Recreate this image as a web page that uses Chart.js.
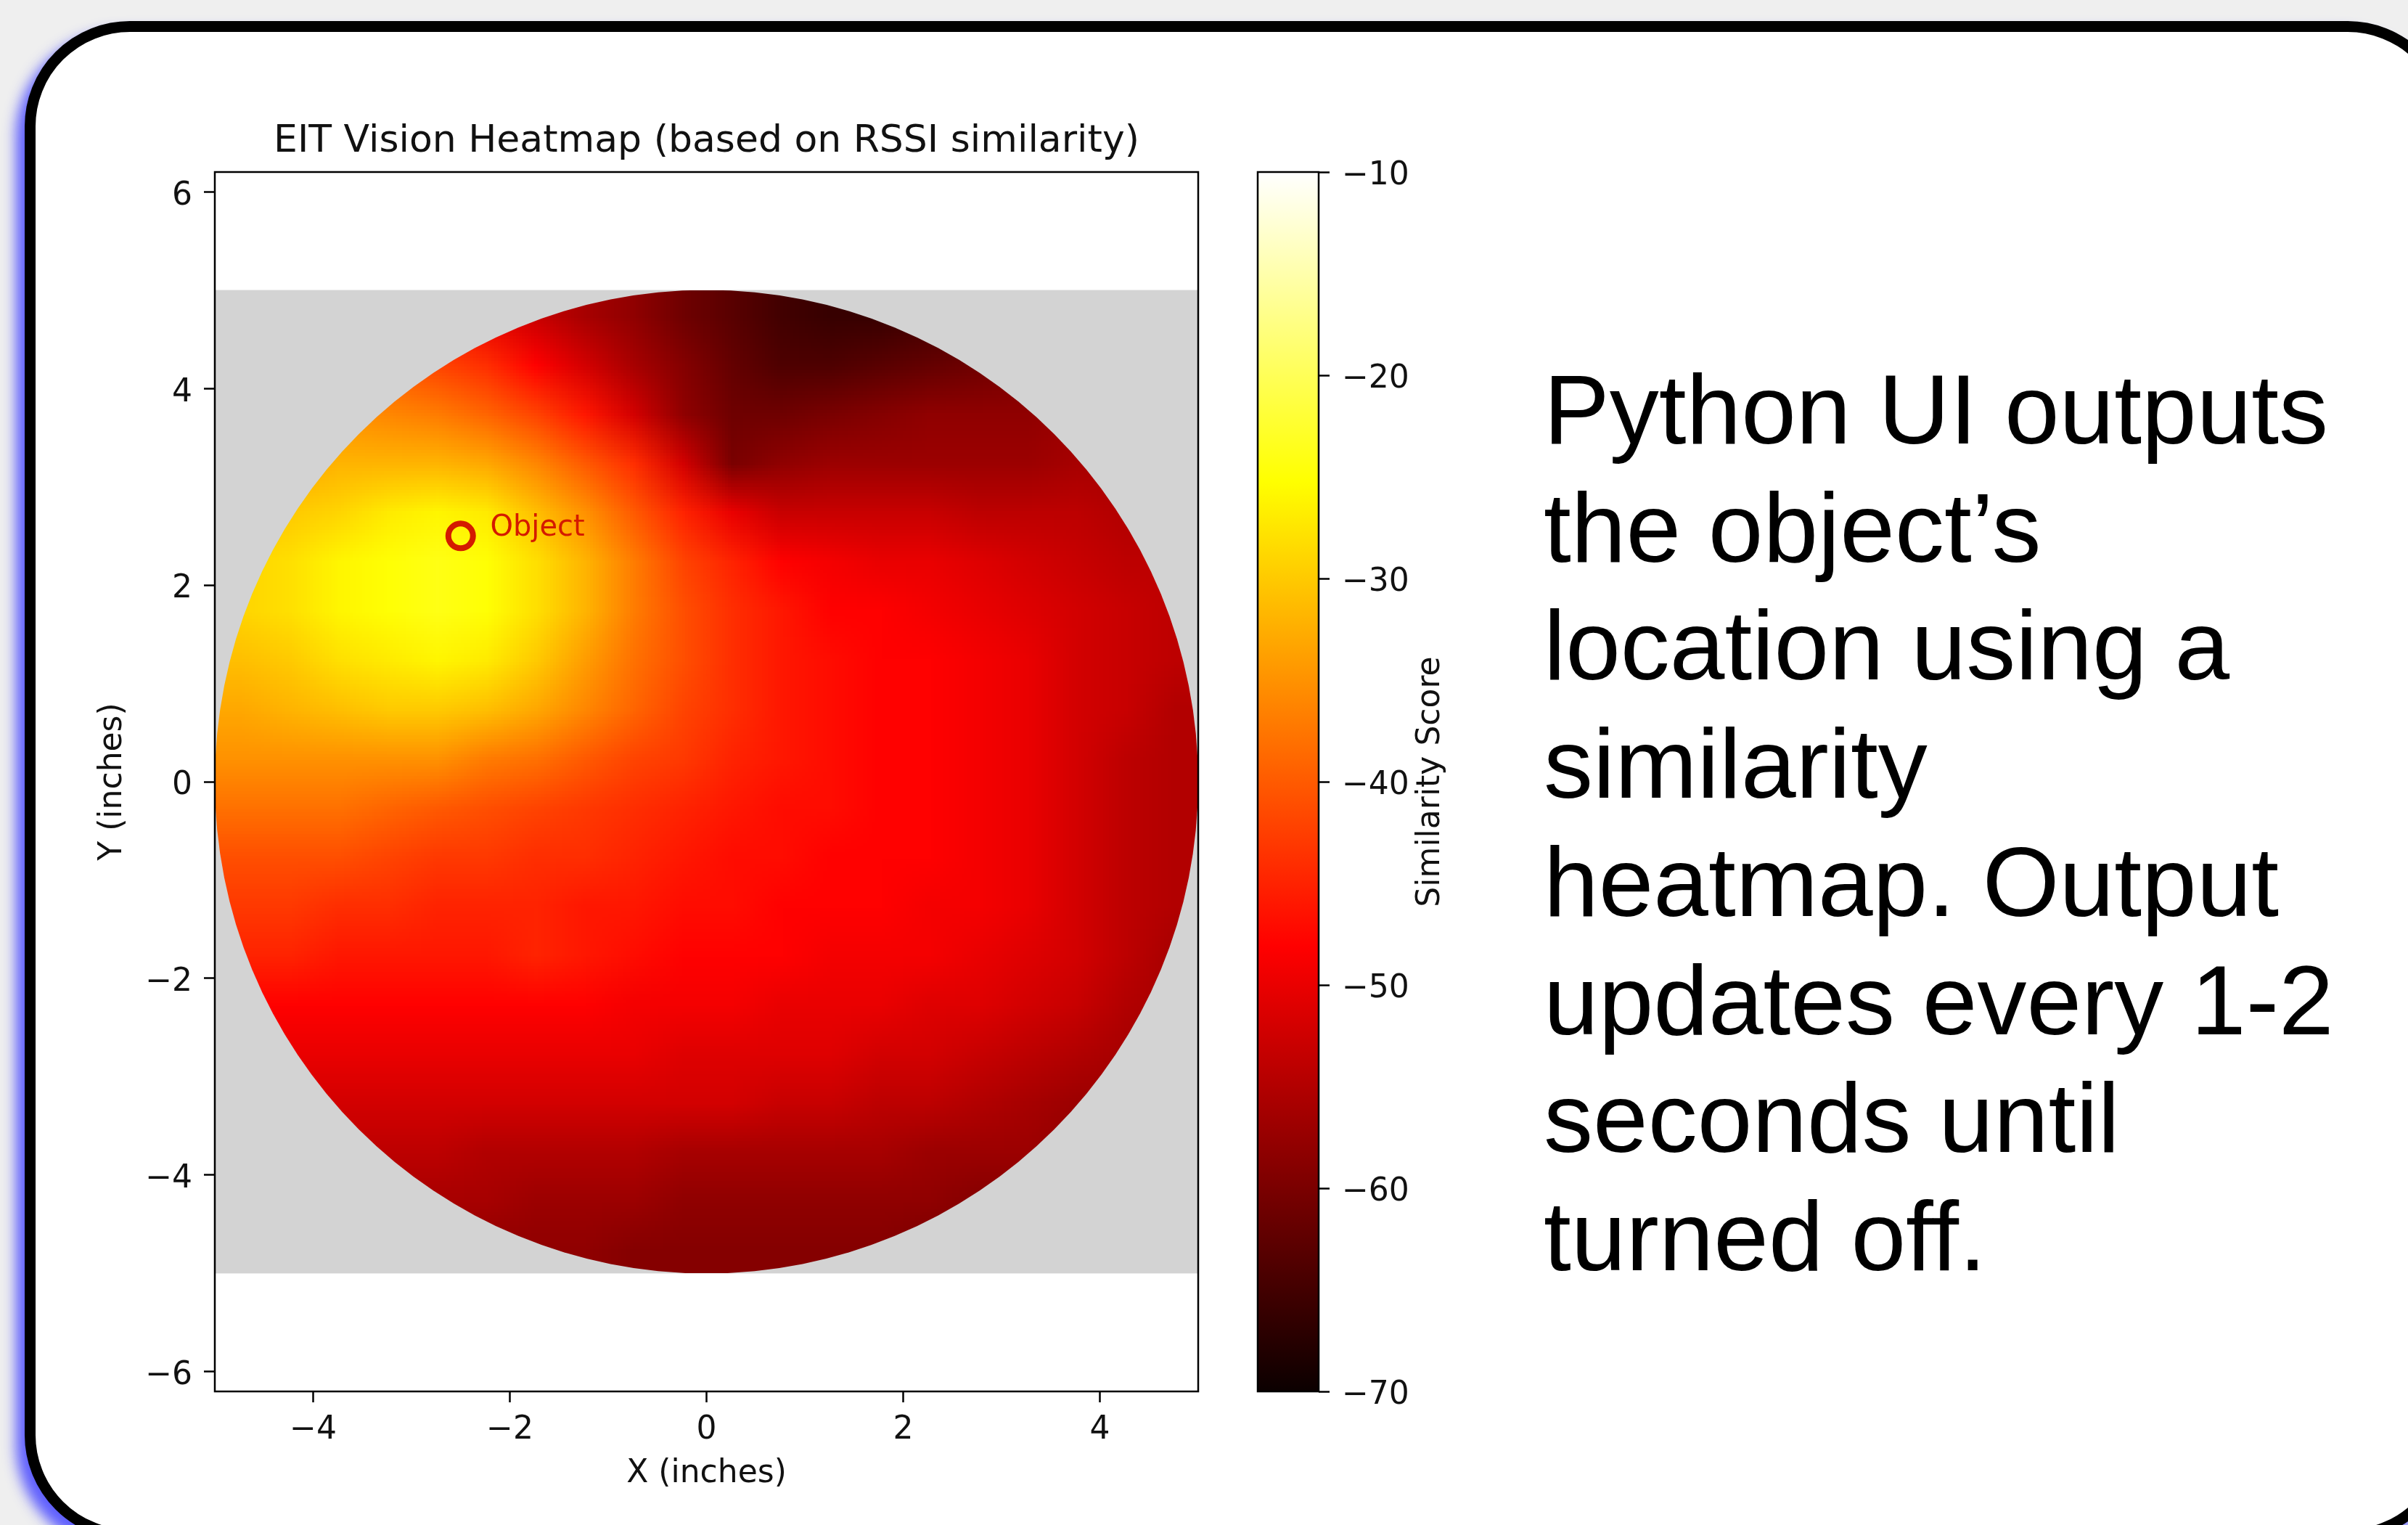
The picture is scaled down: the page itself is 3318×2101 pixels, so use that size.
<!DOCTYPE html>
<html>
<head>
<meta charset="utf-8">
<title>EIT Vision Heatmap</title>
<script src="https://cdn.jsdelivr.net/npm/chart.js@4.4.1/dist/chart.umd.min.js"></script>
<style>
  html, body { margin: 0; padding: 0; }
  body { width: 3318px; height: 2101px; background: #efefef; position: relative; overflow: hidden; }
  .card {
    position: absolute; left: 34px; top: 29px; width: 3346px; height: 2093px;
    box-sizing: border-box; border: 15px solid #000; border-radius: 145px; background: #fff;
    box-shadow: -12px 14px 18px rgba(80, 80, 255, 0.9);
  }
  #heatChart { position: absolute; left: 0; top: 0; }
  #barChart { position: absolute; left: 1700px; top: 0; }
  .caption {
    position: absolute; left: 2127px; top: 483px;
    font-family: "Liberation Sans", Arial, sans-serif; font-size: 136px; line-height: 162.7px;
    color: #000; white-space: nowrap;
  }
</style>
</head>
<body>
<div class="card"></div>
<canvas id="heatChart" width="1700" height="2101"></canvas>
<canvas id="barChart" width="400" height="2101"></canvas>
<div class="caption">Python UI outputs<br>the object’s<br>location using a<br>similarity<br>heatmap. Output<br>updates every 1-2<br>seconds until<br>turned off.</div>

<script>
// tick labels
const xTicks = [-4, -2, 0, 2, 4];
const yTicks = [-6, -4, -2, 0, 2, 4, 6];
const cbarTicks = [-70, -60, -50, -40, -30, -20, -10];
const cbarRange = [-70, -10];

// grid cell centres (inches)
const gridX = [-4.75, -4.25, -3.75, -3.25, -2.75, -2.25, -1.75, -1.25, -0.75, -0.25,
               0.25, 0.75, 1.25, 1.75, 2.25, 2.75, 3.25, 3.75, 4.25, 4.75];
const gridY = [4.75, 4.25, 3.75, 3.25, 2.75, 2.25, 1.75, 1.25, 0.75, 0.25,
               -0.25, -0.75, -1.25, -1.75, -2.25, -2.75, -3.25, -3.75, -4.25, -4.75];

// similarity score per cell, one row per gridY value
const scoreRows = [
  [-40,-40,-40,-42,-46,-50,-53,-56,-58,-61,-63,-65,-66,-66,-65,-64,-62,-60,-59,-58],
  [-38,-38,-38,-40,-42,-44,-48,-52,-56,-59,-62,-64,-64,-63,-62,-61,-60,-59,-58,-57],
  [-35,-35,-35,-36,-37,-39,-42,-46,-52,-58,-61,-61,-60,-59,-58,-58,-58,-57,-56,-56],
  [-33,-33,-32,-32,-32,-33,-36,-40,-44,-52,-60,-58,-57,-57,-57,-57,-57,-56,-56,-56],
  [-31,-30,-29,-27,-26,-27,-31,-35,-40,-45,-50,-53,-53,-53,-53,-54,-54,-54,-55,-55],
  [-29,-28,-26,-25,-24,-25,-28,-32,-37,-42,-45,-48,-49,-50,-50,-51,-52,-53,-54,-54],
  [-29,-28,-26,-25,-24,-25,-28,-32,-37,-41,-44,-46,-48,-48,-49,-50,-51,-52,-53,-54],
  [-31,-30,-28,-27,-26,-27,-30,-34,-38,-41,-44,-46,-47,-48,-48,-49,-50,-52,-53,-54],
  [-33,-32,-31,-30,-30,-31,-33,-36,-39,-42,-44,-46,-47,-48,-48,-49,-50,-52,-53,-55],
  [-35,-35,-35,-35,-35,-37,-38,-40,-42,-43,-45,-46,-47,-48,-48,-49,-50,-52,-54,-55],
  [-38,-38,-38,-39,-40,-41,-42,-43,-44,-45,-46,-47,-47,-48,-48,-49,-50,-52,-54,-55],
  [-41,-41,-41,-42,-43,-43,-44,-44,-45,-46,-47,-47,-48,-48,-48,-49,-50,-52,-54,-55],
  [-43,-43,-44,-44,-45,-45,-45,-46,-46,-47,-47,-48,-48,-48,-49,-49,-50,-52,-54,-55],
  [-45,-45,-46,-46,-46,-46,-45,-46,-47,-48,-48,-48,-49,-49,-49,-50,-51,-52,-54,-56],
  [-48,-48,-48,-48,-48,-48,-48,-48,-49,-49,-49,-50,-50,-50,-51,-51,-52,-53,-55,-56],
  [-50,-50,-50,-50,-50,-50,-50,-50,-50,-51,-51,-51,-51,-52,-52,-53,-54,-55,-56,-57],
  [-52,-52,-52,-52,-52,-52,-52,-52,-52,-52,-52,-53,-53,-54,-54,-55,-56,-57,-57,-58],
  [-54,-54,-54,-54,-54,-55,-55,-55,-55,-56,-56,-56,-56,-56,-57,-57,-57,-58,-58,-59],
  [-56,-56,-56,-56,-56,-56,-57,-57,-57,-58,-58,-58,-58,-58,-58,-59,-59,-59,-60,-60],
  [-57,-57,-57,-57,-57,-58,-58,-58,-59,-59,-59,-59,-59,-59,-60,-60,-60,-60,-60,-60]
];

const tankRadius = 5;
const objectPos = [{ x: -2.5, y: 2.5 }];
const objectLabel = 'Object';
const chartTitle = 'EIT Vision Heatmap (based on RSSI similarity)';

const FONT = '"DejaVu Sans", sans-serif';
const INK = '#111';
Chart.defaults.font.family = FONT;

// matplotlib "hot" colormap
function hot(v) {
  const t = Math.min(1, Math.max(0, (v - cbarRange[0]) / (cbarRange[1] - cbarRange[0])));
  const r = t < 0.365079 ? 0.0416 + 0.9584 * t / 0.365079 : 1;
  const g = t < 0.365079 ? 0 : t < 0.746032 ? (t - 0.365079) / 0.380953 : 1;
  const b = t < 0.746032 ? 0 : (t - 0.746032) / 0.253968;
  return [r, g, b].map(c => Math.round(c * 255));
}
const rgb = c => `rgb(${c[0]},${c[1]},${c[2]})`;
const fmt = v => (v < 0 ? '\u2212' + Math.abs(v) : String(v));

// gray square, then the score image clipped to the tank circle
const heatLayer = {
  id: 'heatLayer',
  beforeDatasetsDraw(chart) {
    const { ctx, scales: { x, y } } = chart;
    const half = (gridX[1] - gridX[0]) / 2;
    const left = x.getPixelForValue(gridX[0] - half);
    const right = x.getPixelForValue(gridX[gridX.length - 1] + half);
    const top = y.getPixelForValue(gridY[0] + half);
    const bottom = y.getPixelForValue(gridY[gridY.length - 1] - half);

    ctx.save();
    ctx.fillStyle = '#d3d3d3';
    ctx.fillRect(left, top, right - left, bottom - top);

    const img = document.createElement('canvas');
    img.width = gridX.length;
    img.height = gridY.length;
    const ictx = img.getContext('2d');
    const pix = ictx.createImageData(img.width, img.height);
    scoreRows.forEach((row, j) => {
      row.forEach((v, i) => {
        const c = hot(v);
        const k = 4 * (j * img.width + i);
        pix.data[k] = c[0];
        pix.data[k + 1] = c[1];
        pix.data[k + 2] = c[2];
        pix.data[k + 3] = 255;
      });
    });
    ictx.putImageData(pix, 0, 0);

    const cx = x.getPixelForValue(0), cy = y.getPixelForValue(0);
    ctx.beginPath();
    ctx.ellipse(cx, cy, x.getPixelForValue(tankRadius) - cx, y.getPixelForValue(-tankRadius) - cy, 0, 0, Math.PI * 2);
    ctx.clip();
    ctx.imageSmoothingEnabled = true;
    ctx.imageSmoothingQuality = 'low';
    ctx.drawImage(img, left, top, right - left, bottom - top);
    ctx.restore();
  }
};

// box round the plot area
const frameBox = {
  id: 'frameBox',
  afterDatasetsDraw(chart) {
    const { ctx, chartArea: a } = chart;
    ctx.save();
    ctx.strokeStyle = '#000';
    ctx.lineWidth = 2.5;
    ctx.strokeRect(a.left, a.top, a.right - a.left, a.bottom - a.top);
    ctx.restore();
  }
};

// title centred over the axes, like matplotlib does
const axesTitle = {
  id: 'axesTitle',
  afterDraw(chart) {
    const { ctx, chartArea: a } = chart;
    ctx.save();
    ctx.font = '52px ' + FONT;
    ctx.fillStyle = INK;
    ctx.textAlign = 'center';
    ctx.textBaseline = 'alphabetic';
    ctx.fillText(chartTitle, (a.left + a.right) / 2, a.top - 28);
    ctx.restore();
  }
};

const objectText = {
  id: 'objectText',
  afterDatasetsDraw(chart) {
    const { ctx, scales: { x, y } } = chart;
    ctx.save();
    ctx.font = '40px ' + FONT;
    ctx.fillStyle = '#d41a00';
    ctx.textAlign = 'left';
    ctx.textBaseline = 'alphabetic';
    ctx.fillText(objectLabel, x.getPixelForValue(objectPos[0].x + 0.3), y.getPixelForValue(objectPos[0].y));
    ctx.restore();
  }
};

const tickGrid = { drawOnChartArea: false, drawTicks: true, tickLength: 15, tickWidth: 2.5, tickColor: '#000' };

new Chart(document.getElementById('heatChart'), {
  type: 'scatter',
  data: {
    datasets: [{
      label: objectLabel,
      data: objectPos,
      pointStyle: 'circle',
      pointRadius: 17,
      pointBorderWidth: 8,
      pointBorderColor: '#d41a00',
      pointBackgroundColor: 'rgba(0,0,0,0)',
      showLine: false
    }]
  },
  options: {
    responsive: false,
    animation: false,
    devicePixelRatio: 1,
    events: [],
    layout: { padding: { left: 100, top: 237, right: 49, bottom: 0 } },
    plugins: {
      legend: { display: false },
      tooltip: { enabled: false },
      title: { display: false }
    },
    scales: {
      x: {
        type: 'linear',
        min: -5,
        max: 5,
        afterBuildTicks: s => { s.ticks = xTicks.map(v => ({ value: v })); },
        afterFit: s => { s.height = 184; },
        grid: tickGrid,
        border: { display: false },
        ticks: { padding: 12, color: INK, font: { size: 44 }, maxRotation: 0, callback: v => fmt(v) },
        title: { display: true, text: 'X (inches)', color: INK, font: { size: 44 }, padding: { top: 4, bottom: 44 } }
      },
      y: {
        type: 'linear',
        min: -6.2,
        max: 6.2,
        afterBuildTicks: s => { s.ticks = yTicks.map(v => ({ value: v })); },
        afterFit: s => { s.width = 196; },
        grid: tickGrid,
        border: { display: false },
        ticks: { padding: 16, labelOffset: 6, color: INK, font: { size: 44 }, callback: v => fmt(v) },
        title: { display: true, text: 'Y (inches)', color: INK, font: { size: 44 }, padding: { top: 29, bottom: 0 } }
      }
    }
  },
  plugins: [heatLayer, frameBox, objectText, axesTitle]
});

// colorbar
const hotStops = [0, 0.365079, 0.746032, 1];

const cbarLabel = {
  id: 'cbarLabel',
  afterDraw(chart) {
    const { ctx, chartArea: a } = chart;
    ctx.save();
    ctx.translate(a.right + 155, (a.top + a.bottom) / 2);
    ctx.rotate(-Math.PI / 2);
    ctx.font = '44px ' + FONT;
    ctx.fillStyle = INK;
    ctx.textAlign = 'center';
    ctx.textBaseline = 'middle';
    ctx.fillText('Similarity Score', 0, 0);
    ctx.restore();
  }
};

new Chart(document.getElementById('barChart'), {
  type: 'bar',
  data: {
    labels: ['score'],
    datasets: [{
      data: [cbarRange],
      borderWidth: 0,
      barPercentage: 1,
      categoryPercentage: 1,
      backgroundColor: (c) => {
        const a = c.chart.chartArea;
        if (!a) return '#f00';
        const g = c.chart.ctx.createLinearGradient(0, a.bottom, 0, a.top);
        hotStops.forEach(t => g.addColorStop(t, rgb(hot(cbarRange[0] + t * (cbarRange[1] - cbarRange[0])))));
        return g;
      }
    }]
  },
  options: {
    responsive: false,
    animation: false,
    devicePixelRatio: 1,
    events: [],
    layout: { padding: { left: 33, top: 237, right: 0, bottom: 184 } },
    plugins: { legend: { display: false }, tooltip: { enabled: false } },
    scales: {
      x: { display: false },
      y: {
        position: 'right',
        min: cbarRange[0],
        max: cbarRange[1],
        afterBuildTicks: s => { s.ticks = cbarTicks.map(v => ({ value: v })); },
        afterFit: s => { s.width = 283; },
        grid: tickGrid,
        border: { display: false },
        ticks: { padding: 17, labelOffset: 6, color: INK, font: { size: 44 }, callback: v => fmt(v) }
      }
    }
  },
  plugins: [frameBox, cbarLabel]
});
</script>
</body>
</html>
